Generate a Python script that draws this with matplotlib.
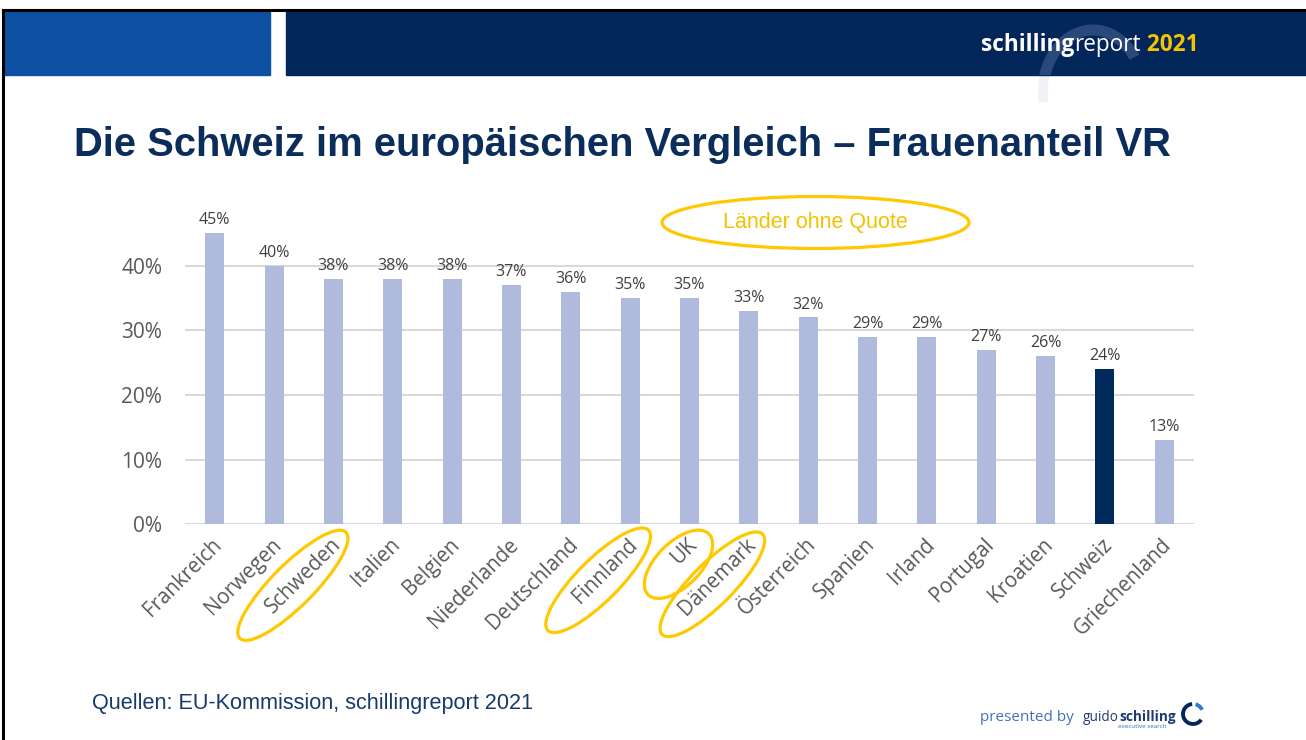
import matplotlib as mpl
mpl.use('Agg')

import matplotlib.pyplot as plt
from matplotlib.patches import Rectangle, Ellipse, Arc
from matplotlib.lines import Line2D
from matplotlib.transforms import ScaledTranslation, IdentityTransform
import numpy as np

########################################
# data

laender = ['Frankreich', 'Norwegen', 'Schweden', 'Italien', 'Belgien', 'Niederlande',
           'Deutschland', 'Finnland', 'UK', 'Dänemark', 'Österreich', 'Spanien',
           'Irland', 'Portugal', 'Kroatien', 'Schweiz', 'Griechenland']
anteil = [45, 40, 38, 38, 38, 37, 36, 35, 35, 33, 32, 29, 29, 27, 26, 24, 13]
ohne_quote = ['Schweden', 'Finnland', 'UK', 'Dänemark']
y_ticks = [0, 10, 20, 30, 40]

########################################
# colours

navy = '#03265A'
blue = '#0D50A1'
bar_light = '#AFBADD'
bar_dark = '#002A5C'
gold = '#FFC800'
title_col = '#0B2D5B'

W, H = 1306, 740
fig = plt.figure(figsize=(W / 100, H / 100), dpi=100)

def px(x, y):
    # image pixel (top-left origin) -> figure fraction
    return x / W, 1 - y / H

# header bars and frame
arc_xy = (1093, H - 92)
fig.patches.append(Arc(arc_xy, 100, 124, theta1=100, theta2=192, transform=IdentityTransform(),
                       color='#F0F2F6', lw=7, zorder=0))
fig.patches.append(Rectangle(px(4, 75), 266 / W, 63 / H, transform=fig.transFigure,
                             color=blue, zorder=1))
header = Rectangle(px(286, 75), (W - 286) / W, 63 / H, transform=fig.transFigure,
                   color=navy, zorder=1)
fig.patches.append(header)
a = Arc(arc_xy, 100, 124, theta1=40, theta2=200, transform=IdentityTransform(),
        color='#2A4879', lw=8, zorder=2)
a.set_clip_path(header)
fig.patches.append(a)
fig.lines.append(Line2D([px(3, 0)[0], 1], [px(0, 10)[1]] * 2, transform=fig.transFigure,
                        color='black', lw=2.2, zorder=3))
fig.lines.append(Line2D([px(3, 0)[0]] * 2, [0, px(0, 10)[1]], transform=fig.transFigure,
                        color='black', lw=2.2, zorder=3))

renderer = fig.canvas.get_renderer()

def text_run(x, y, parts, **kw):
    # draw consecutive text pieces with different styles
    for s, style in parts:
        t = fig.text(x / W, 1 - y / H, s, va='baseline', ha='left', zorder=4, **kw, **style)
        bb = t.get_window_extent(renderer=renderer)
        x += bb.width

text_run(981, 51, [('schilling', dict(color='white', weight='bold')),
                   ('report', dict(color='white')),
                   (' 2021', dict(color='#F5C400', weight='bold'))],
         family='Open Sans', fontsize=16.3)

# title
fig.text(*px(74, 156), 'Die Schweiz im europäischen Vergleich – Frauenanteil VR',
         family='Liberation Sans', weight='bold', fontsize=28.8, color=title_col,
         va='baseline', ha='left')

########################################
# chart

ax = fig.add_axes([185 / W, 1 - 524.3 / H, (1194 - 185) / W, 323.3 / H])
x = np.arange(len(laender))
cols = [bar_dark if l == 'Schweiz' else bar_light for l in laender]
ax.bar(x, anteil, width=0.32, color=cols, zorder=3)
ax.set_xlim(-0.5, len(laender) - 0.5)
ax.set_ylim(0, 50)
ax.set_yticks(y_ticks)
ax.set_yticklabels(['%d%%' % v for v in y_ticks], family='Open Sans', fontsize=15,
                   color='#595959')
for v in y_ticks:
    ax.axhline(v, color='#D9D9D9', lw=1.5, zorder=1)
for s in ax.spines.values():
    s.set_visible(False)
ax.tick_params(axis='both', length=0, pad=16.5)
ax.set_xticks([])

for i, v in enumerate(anteil):
    ax.annotate('%d%%' % v, (i, v), xytext=(0, 3.5), textcoords='offset points',
                ha='center', va='bottom', family='Open Sans', fontsize=11.5,
                color='#404040')

lbl_tr = ax.get_xaxis_transform() + ScaledTranslation(3 / 72, -12.5 / 72, fig.dpi_scale_trans)
for i, l in enumerate(laender):
    ax.text(i, 0, l, transform=lbl_tr, rotation=45, rotation_mode='anchor',
            ha='right', va='center', family='Open Sans', fontsize=14.8, color='#595959')

# ellipses round the countries without quota (offsets in pixels from bar base)
ell = {'Schweden': (-40.5, -61, 150, 42), 'Finnland': (-32, -56, 142, 42),
       'UK': (-11, -40, 86, 44), 'Dänemark': (-36.5, -60, 142, 42)}
for l in ohne_quote:
    i = laender.index(l)
    bx, by = ax.transData.transform((i, 0))
    dx, dy, w, h = ell[l]
    fig.patches.append(Ellipse((bx + dx, by + dy), w, h, angle=45,
                               transform=IdentityTransform(), fill=False, ec=gold,
                               lw=2.3, zorder=5))

fig.patches.append(Ellipse((815.5, H - 222.5), 307, 52, transform=IdentityTransform(),
                           fill=False, ec=gold, lw=2.3))
fig.text(*px(815, 223), 'Länder ohne Quote', family='Liberation Sans', fontsize=15.5,
         color='#F2C200', ha='center', va='center')

########################################
# footer

fig.text(*px(92, 709), 'Quellen: EU-Kommission, schillingreport 2021', family='Liberation Sans',
         fontsize=15.6, color='#173A6B', va='baseline', ha='left')

text_run(980, 721, [('presented by ', dict(color='#4470B8'))], family='Open Sans', fontsize=11)
text_run(1083, 721, [('guido', dict(color='#1E3A6E')),
                     ('schilling', dict(color='#1E3A6E', weight='bold'))],
         family='Open Sans', fontsize=9.8)
fig.text(*px(1166, 728), 'executive search', family='Open Sans', fontsize=4.5,
         color='#2F6FC0', ha='right', va='baseline')
fig.patches.append(Arc((1193, H - 714), 20, 20, theta1=95, theta2=325,
                       transform=IdentityTransform(), color=navy, lw=2.8))
fig.patches.append(Arc((1193, H - 714), 20, 20, theta1=25, theta2=75,
                       transform=IdentityTransform(), color='#2F7FD0', lw=2.8))

fig.savefig('out.png', dpi=100)
